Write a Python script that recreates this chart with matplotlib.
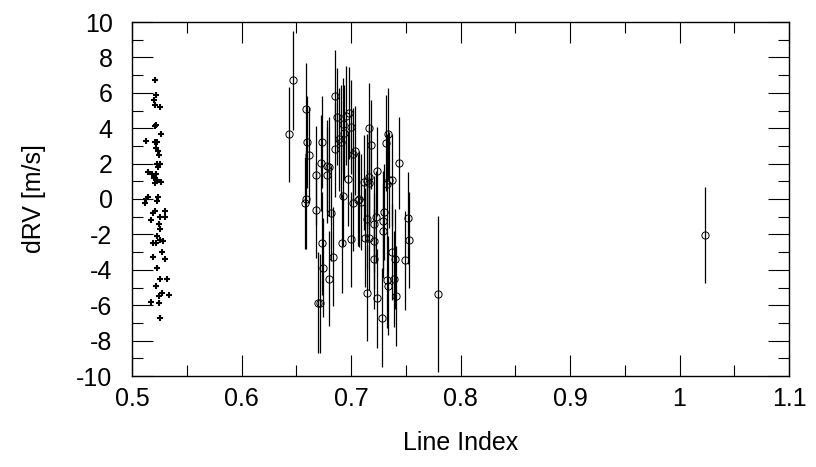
import matplotlib
matplotlib.use("Agg")
import matplotlib.pyplot as plt
from matplotlib.ticker import MultipleLocator, FuncFormatter

plt.rcParams['font.family'] = ['Liberation Sans', 'DejaVu Sans']
plt.rcParams['axes.unicode_minus'] = False

# Reference lines (plus markers, no error bars)
plus_x = [0.5210, 0.5219, 0.5201, 0.5210, 0.5256, 0.5219, 0.5210, 0.5265, 0.5128,
          0.5210, 0.5228, 0.5219, 0.5237, 0.5247, 0.5228, 0.5256, 0.5237, 0.5146,
          0.5183, 0.5219, 0.5201, 0.5228, 0.5265, 0.5210, 0.5146, 0.5237,
          0.5128, 0.5119, 0.5228, 0.5210, 0.5301, 0.5192, 0.5256, 0.5301, 0.5174,
          0.5247, 0.5256, 0.5228, 0.5256, 0.5283, 0.5192, 0.5219, 0.5274, 0.5192,
          0.5301, 0.5228, 0.5256, 0.5320, 0.5219, 0.5274, 0.5338, 0.5247, 0.5174,
          0.5247, 0.5256]
plus_y = [6.7, 5.9, 5.6, 5.3, 5.2, 4.2, 4.1, 3.7, 3.3,
          3.2, 3.2, 2.9, 2.7, 2.5, 2.0, 2.0, 1.8, 1.5,
          1.4, 1.4, 1.2, 1.1, 0.96, 0.9, 0.1, 0.1,
          0.0, -0.2, -0.1, -0.7, -0.7, -0.8, -1.0, -1.0, -1.2,
          -1.4, -1.7, -2.1, -2.3, -2.4, -2.5, -2.5, -3.0, -3.3,
          -3.4, -3.9, -4.5, -4.5, -4.9, -5.3, -5.4, -5.5, -5.8,
          -5.9, -6.7]

# Other lines (open circles with error bars)
circ_x = [0.6437, 0.6473, 0.6589, 0.6601, 0.6616, 0.6589, 0.6580, 0.6678, 0.6680,
          0.6732, 0.6723, 0.6783, 0.6796, 0.6778, 0.6814, 0.6738, 0.6833, 0.6747,
          0.6799, 0.6701, 0.6717, 0.6854, 0.6869, 0.6854, 0.6890, 0.6909, 0.6930,
          0.6936, 0.6954, 0.6979, 0.6997, 0.6975, 0.6930, 0.7021, 0.7039, 0.6915,
          0.7000, 0.7021, 0.7067, 0.7088, 0.7161, 0.7183, 0.7119, 0.7149, 0.7167,
          0.7161, 0.7235, 0.7335, 0.7317, 0.7326, 0.7344, 0.7374, 0.7441, 0.7075,
          0.7128, 0.7167, 0.7213, 0.7143, 0.7210, 0.7228, 0.7299, 0.7290, 0.7295,
          0.7207, 0.7149, 0.7235, 0.7286, 0.7374, 0.7399, 0.7326, 0.7338, 0.7393,
          0.7411, 0.7523, 0.7530, 0.7493, 0.7792, 1.0233]
circ_y = [3.65, 6.7, 5.1, 3.24, 2.5, -0.02, -0.2, -0.62, 1.34,
          3.2, 2.05, 1.88, 1.83, 1.36, -0.81, -2.5, -3.26, -3.88,
          -4.5, -5.86, -5.89, 5.84, 4.65, 2.8, 3.37, 3.24, 4.24,
          3.75, 4.7, 4.88, 4.05, 1.15, 0.17, 2.52, 2.73, -2.5,
          -2.28, -0.24, -0.06, -0.17, 4.0, 3.07, 0.94, 1.0, 1.26,
          0.92, 1.56, 3.65, 3.16, 0.85, 1.07, 1.1, 2.02, 0.0,
          -2.19, -2.22, -2.37, -1.15, -1.41, -1.03, -0.75, -1.23, -1.79,
          -3.39, -5.33, -5.61, -6.7, -2.98, -3.39, -4.58, -4.9, -4.52,
          -5.48, -1.05, -2.3, -3.45, -5.37, -2.03]
circ_err = [2.7, 2.8, 2.6, 2.6, 2.7, 2.8, 2.6, 2.7, 2.8,
            2.6, 2.7, 2.6, 2.8, 2.7, 2.7, 2.9, 2.8, 2.8,
            2.7, 2.85, 2.8, 2.6, 2.75, 2.7, 2.9, 3.2, 2.6,
            2.7, 2.8, 2.6, 2.65, 2.7, 2.8, 2.6, 2.5, 2.8,
            2.7, 2.7, 2.6, 2.7, 2.55, 2.5, 2.67, 2.7, 2.8,
            2.9, 2.5, 2.6, 2.7, 2.8, 2.7, 2.6, 2.6, 2.7,
            2.8, 2.9, 2.7, 2.8, 2.7, 2.6, 2.7, 2.8, 2.7,
            2.8, 2.7, 2.8, 2.8, 2.7, 2.8, 2.7, 2.8, 2.7,
            2.8, 2.6, 2.7, 2.8, 4.4, 2.7]

x_ticks = [0.5, 0.6, 0.7, 0.8, 0.9, 1.0, 1.1]
y_ticks = [10, 8, 6, 4, 2, 0, -2, -4, -6, -8, -10]

fig = plt.figure(figsize=(8.16, 4.67), dpi=100)
ax = fig.add_axes([132 / 816, 1 - 376 / 467, (789 - 132) / 816, (376 - 22) / 467])

ax.errorbar(circ_x, circ_y, yerr=circ_err, fmt='none', ecolor='black',
            elinewidth=0.9, capsize=0)
ax.plot(circ_x, circ_y, linestyle='none', marker='o', markersize=5.2,
        markerfacecolor='none', markeredgecolor='black', markeredgewidth=0.7)
ax.plot(plus_x, plus_y, linestyle='none', marker='+', markersize=5,
        markeredgewidth=1.5, color='black')

ax.set_xlim(0.5, 1.1)
ax.set_ylim(-10, 10)
ax.set_xticks(x_ticks)
ax.set_yticks(y_ticks)
ax.xaxis.set_minor_locator(MultipleLocator(0.05))
ax.yaxis.set_minor_locator(MultipleLocator(1))
ax.xaxis.set_major_formatter(FuncFormatter(lambda v, p: f"{v:g}"))
ax.yaxis.set_major_formatter(FuncFormatter(lambda v, p: f"{v:g}"))

ax.tick_params(which='both', direction='in', top=True, right=True, width=0.8,
               labelsize=18, colors='black')
ax.tick_params(which='major', length=15)
ax.tick_params(which='minor', length=8)
ax.tick_params(axis='x', which='major', pad=8)
ax.tick_params(axis='y', which='major', pad=14)
for s in ax.spines.values():
    s.set_linewidth(1.0)

ax.set_xlabel('Line Index', fontsize=18, labelpad=14)
ax.set_ylabel('dRV [m/s]', fontsize=18, labelpad=22)

fig.savefig('out.png', dpi=100)
